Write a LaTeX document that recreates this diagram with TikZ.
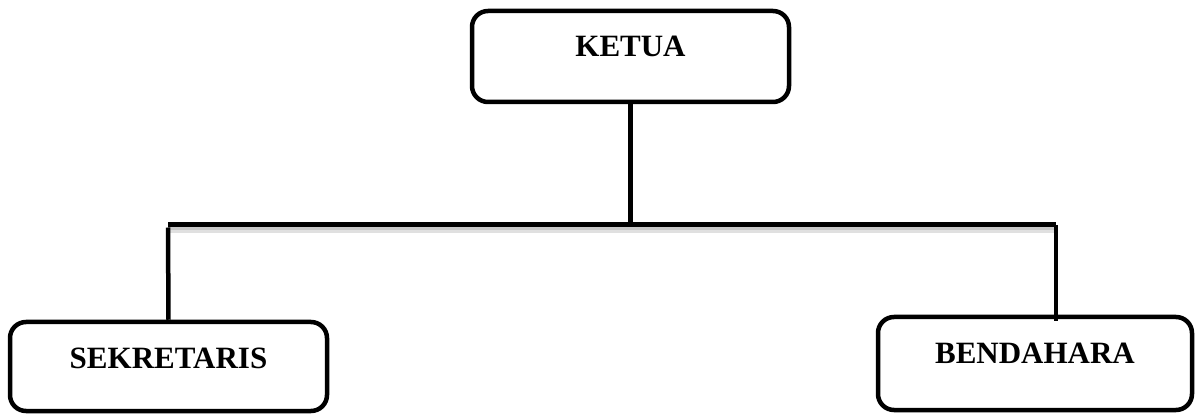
\documentclass[tikz,border=0pt]{standalone}
\usepackage{fontspec}
\setmainfont{Liberation Serif}
\begin{document}
\begin{tikzpicture}[x=1pt,y=-1pt,
  rolebox/.style={draw=black, line width=4.5pt, rounded corners=16pt, fill=white,
    inner sep=0pt, font=\fontsize{31}{36}\selectfont\bfseries},
  link/.style={draw=black, line width=4.5pt},
  linkshadow/.style={draw=black!12, line width=8pt, transform canvas={yshift=-4pt}},
  linkshadowcore/.style={draw=black!22, line width=4pt, transform canvas={yshift=-3.5pt}}
]
\useasboundingbox (0,0) rectangle (1195,414);

% organisation boxes
\node[rolebox, minimum width=317pt, text height=46pt, text depth=45pt]
  (ketua) at (630.5,56.5) {KETUA};
\node[rolebox, minimum width=317pt, text height=46pt, text depth=43pt]
  (sekretaris) at (168.5,366.5) {SEKRETARIS};
\node[rolebox, minimum width=314pt, text height=46pt, text depth=47pt]
  (bendahara) at (1035,363.5) {BENDAHARA};

% ends of the horizontal bus
\coordinate (busL) at (168,225);
\coordinate (busR) at (1056,225);

% soft shadow under the connectors
\begin{scope}[on background layer/.try]
\path[linkshadow] (busL) -- (busR);
\path[linkshadowcore] (busL) -- (busR);
\end{scope}

% connectors
\draw[link] (ketua.south) -- (ketua.south |- busL);
\draw[link, line width=5pt] (busL) -- (busR);
\draw[link] ([yshift=-2.5pt]busL) -- (sekretaris.north);
\draw[link] (busR) -- ([yshift=-6pt]busR |- bendahara.north);
\end{tikzpicture}
\end{document}
